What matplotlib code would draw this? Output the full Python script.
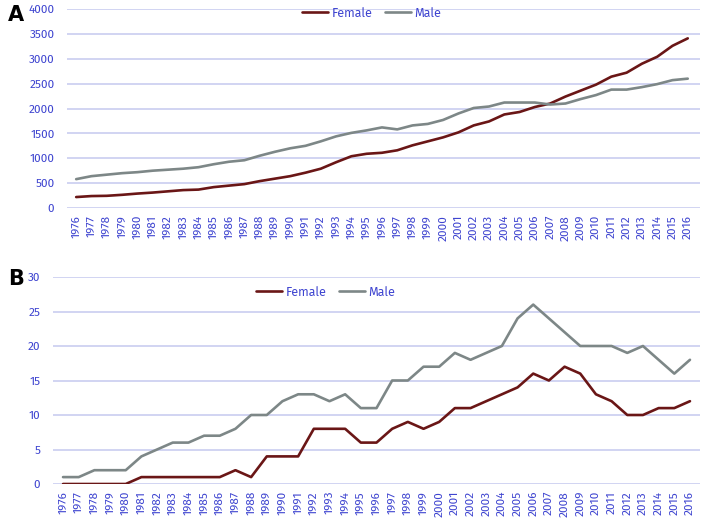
import matplotlib
matplotlib.use("Agg")
import matplotlib.pyplot as plt
from matplotlib import font_manager

years = list(range(1976, 2017))
year_labels = [str(y) for y in years]

female_a = [220, 240, 245, 265, 290, 310, 335, 360, 370, 420, 450, 480, 540, 590, 640,
            710, 790, 920, 1040, 1090, 1110, 1160, 1260, 1340, 1420, 1520, 1660, 1740,
            1880, 1930, 2030, 2100, 2240, 2360, 2480, 2640, 2720, 2900, 3040, 3260, 3410]
male_a = [580, 640, 670, 700, 720, 750, 770, 790, 820, 880, 930, 960, 1050, 1130, 1200,
          1250, 1340, 1440, 1510, 1560, 1620, 1580, 1660, 1690, 1770, 1900, 2010, 2040,
          2120, 2120, 2120, 2080, 2100, 2190, 2270, 2380, 2380, 2430, 2490, 2570, 2600]

female_b = [0, 0, 0, 0, 0, 1, 1, 1, 1, 1, 1, 2, 1, 4, 4, 4, 8, 8, 8, 6, 6, 8, 9, 8, 9,
            11, 11, 12, 13, 14, 16, 15, 17, 16, 13, 12, 10, 10, 11, 11, 12]
male_b = [1, 1, 2, 2, 2, 4, 5, 6, 6, 7, 7, 8, 10, 10, 12, 13, 13, 12, 13, 11, 11, 15, 15,
          17, 17, 19, 18, 19, 20, 24, 26, 24, 22, 20, 20, 20, 19, 20, 18, 16, 18]

yticks_a = [0, 500, 1000, 1500, 2000, 2500, 3000, 3500, 4000]
yticks_b = [0, 5, 10, 15, 20, 25, 30]

fonts = font_manager.fontManager.ttflist
def has_regular(name):
    return any(f.name == name and f.weight in (400, "normal", "regular") and f.style == "normal"
               and f.stretch in ("normal", 500) for f in fonts)

fam = "Open Sans"
for cand in ["Fira Sans", "PT Sans", "Open Sans"]:
    if has_regular(cand):
        fam = cand
        break
plt.rcParams['font.family'] = [fam, 'DejaVu Sans']
plt.rcParams['font.weight'] = 'normal'

FEMALE = "#6a1616"
MALE = "#7d8787"
TICK = "#3f45d0"
GRID = "#c9cdf0"

fig = plt.figure(figsize=(7.04, 5.25), dpi=100)
W, H = 704, 525

def make_ax(left, right, top, bottom):
    return fig.add_axes([left / W, 1 - bottom / H, (right - left) / W, (bottom - top) / H])

ax_a = make_ax(67, 700, 9, 208)
ax_b = make_ax(53, 700, 277, 484)

def style(ax, female, male, yticks, xlim, legend_xy):
    x = list(range(len(years)))
    ax.plot(x, female, color=FEMALE, lw=1.9, label="Female", solid_capstyle="round")
    ax.plot(x, male, color=MALE, lw=1.9, label="Male", solid_capstyle="round")
    ax.set_xlim(*xlim)
    ax.set_ylim(yticks[0], yticks[-1])
    ax.set_yticks(yticks)
    ax.set_xticks(x)
    ax.set_xticklabels(year_labels, rotation=90)
    for s in ax.spines.values():
        s.set_visible(False)
    ax.grid(axis='y', color=GRID, lw=1.2)
    ax.set_axisbelow(True)
    ax.tick_params(length=0, colors=TICK, labelsize=8.5)
    ax.tick_params(axis='y', pad=9)
    ax.tick_params(axis='x', pad=5)
    leg = ax.legend(loc='center left', bbox_to_anchor=(legend_xy[0] / W, 1 - legend_xy[1] / H),
                    bbox_transform=fig.transFigure, ncol=2, frameon=False,
                    fontsize=9, handlelength=2.1, handletextpad=0.25, columnspacing=1.0,
                    borderaxespad=0, borderpad=0)
    for t in leg.get_texts():
        t.set_color(TICK)

style(ax_a, female_a, male_a, yticks_a, (-0.6, 40.8), (302, 13))
style(ax_b, female_b, male_b, yticks_b, (-0.64, 40.64), (256, 292))

fig.text(8 / W, 1 - 15 / H, "A", fontsize=15, fontweight='bold', va='center', ha='left',
         family='DejaVu Sans')
fig.text(8 / W, 1 - 279 / H, "B", fontsize=15, fontweight='bold', va='center', ha='left',
         family='DejaVu Sans')

fig.savefig("out.png", dpi=100)
